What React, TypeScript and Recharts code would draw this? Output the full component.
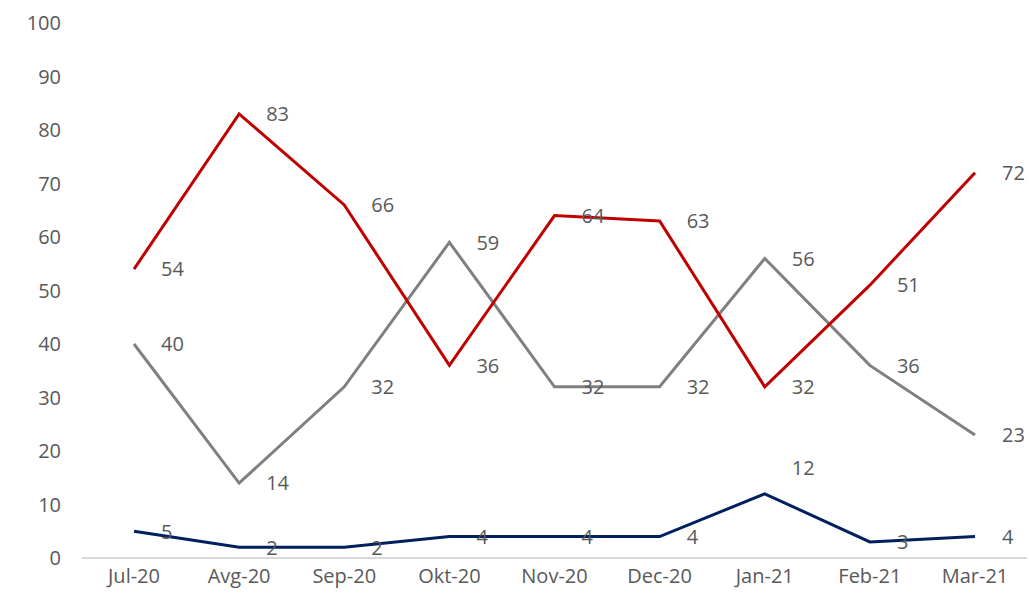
import { LineChart, Line, XAxis, YAxis, LabelList } from "recharts";

const months = ["Jul-20", "Avg-20", "Sep-20", "Okt-20", "Nov-20", "Dec-20", "Jan-21", "Feb-21", "Mar-21"];
const redValues = [54, 83, 66, 36, 64, 63, 32, 51, 72];
const grayValues = [40, 14, 32, 59, 32, 32, 56, 36, 23];
const navyValues = [5, 2, 2, 4, 4, 4, 12, 3, 4];
const yTicks = [0, 10, 20, 30, 40, 50, 60, 70, 80, 90, 100];

const data = months.map((m, i) => ({
  month: m,
  red: redValues[i],
  gray: grayValues[i],
  navy: navyValues[i],
}));

const FONT = "'Open Sans', 'Liberation Sans', sans-serif";
const TEXT = "#595959";

// labels sit to the right of the point; the navy peak label goes up a bit
const makeLabel = (raiseIndex?: number) => (props: any) => {
  const { x, y, value, index } = props;
  const up = index === raiseIndex ? -26 : 0;
  return (
    <text
      x={x + 27}
      y={y + 2 + up}
      fill={TEXT}
      fontSize={20}
      fontFamily={FONT}
      dominantBaseline="middle"
    >
      {value}
    </text>
  );
};

export default function App() {
  return (
    <div style={{ position: "absolute", left: 0, top: 0, background: "#fff" }}>
      <LineChart
        width={1030}
        height={606}
        data={data}
        margin={{ top: 23, right: 3, bottom: 18, left: 0 }}
      >
        <XAxis
          dataKey="month"
          tickLine={false}
          axisLine={{ stroke: "#d9d9d9", strokeWidth: 2 }}
          tick={{ fill: TEXT, fontSize: 20, fontFamily: FONT }}
          tickMargin={5}
          interval={0}
          padding={{ left: 52, right: 52 }}
        />
        <YAxis
          domain={[0, 100]}
          ticks={yTicks}
          interval={0}
          width={82}
          axisLine={false}
          tickLine={false}
          tickMargin={15}
          tick={{ fill: TEXT, fontSize: 20, fontFamily: FONT }}
        />
        <Line
          dataKey="gray"
          stroke="#808080"
          strokeWidth={3}
          dot={false}
          isAnimationActive={false}
        >
          <LabelList dataKey="gray" content={makeLabel()} />
        </Line>
        <Line
          dataKey="red"
          stroke="#c00000"
          strokeWidth={3}
          dot={false}
          isAnimationActive={false}
        >
          <LabelList dataKey="red" content={makeLabel()} />
        </Line>
        <Line
          dataKey="navy"
          stroke="#002060"
          strokeWidth={3}
          dot={false}
          isAnimationActive={false}
        >
          <LabelList dataKey="navy" content={makeLabel(6)} />
        </Line>
      </LineChart>
    </div>
  );
}
